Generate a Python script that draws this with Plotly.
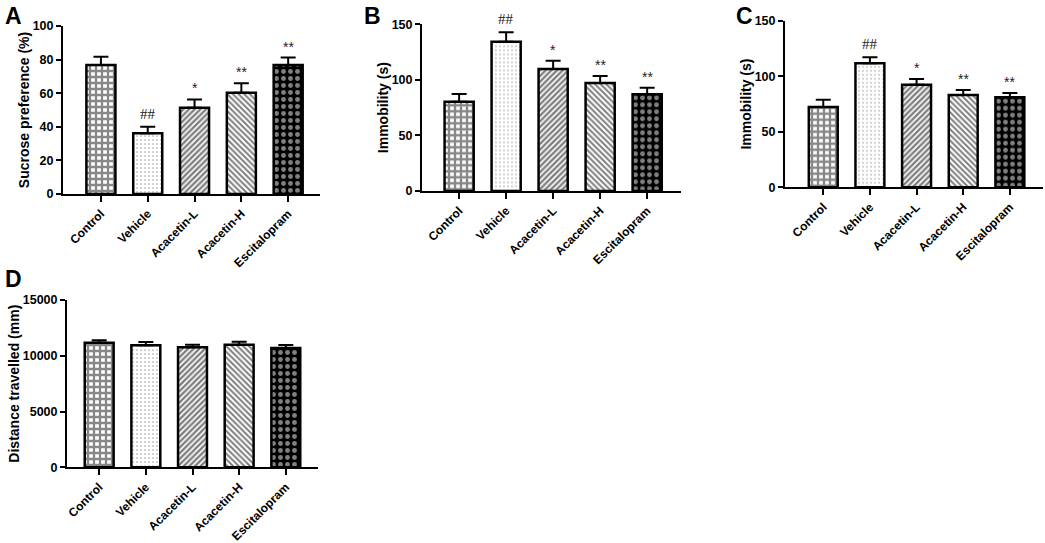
import plotly.graph_objects as go

groups = ["Control", "Vehicle", "Acacetin-L", "Acacetin-H", "Escitalopram"]

# panel A - sucrose preference (%)
sucrose_mean = [76.8, 36.1, 51.4, 60.3, 76.8]
sucrose_err = [4.9, 4.0, 4.9, 5.6, 4.4]
sucrose_marks = ["", "##", "*", "**", "**"]

# panel B - immobility (s)
immob_b_mean = [80.4, 134.4, 109.8, 97.2, 87.0]
immob_b_err = [6.9, 8.4, 7.5, 6.3, 6.0]
immob_b_marks = ["", "##", "*", "**", "**"]

# panel C - immobility (s)
immob_c_mean = [72.3, 111.6, 92.4, 83.1, 81.0]
immob_c_err = [6.6, 5.4, 5.1, 4.5, 3.9]
immob_c_marks = ["", "##", "*", "**", "**"]

# panel D - distance travelled (mm)
dist_mean = [11175, 10936, 10757, 10996, 10697]
dist_err = [210, 300, 240, 270, 270]

W, H = 1045, 543
FONT = "Arial, Liberation Sans, sans-serif"

patterns = [
    dict(shape="+", fgcolor="#111111", bgcolor="white", size=6, solidity=0.62),
    dict(shape=".", fgcolor="#555555", bgcolor="white", size=4, solidity=0.15),
    dict(shape="/", fgcolor="black", bgcolor="white", size=4, solidity=0.6),
    dict(shape="\\", fgcolor="black", bgcolor="white", size=4, solidity=0.5),
    dict(shape=".", fgcolor="white", bgcolor="black", size=7, solidity=0.38),
]

# pixel boxes: (x0, x1, ytop, ybottom), x range, y range, dtick, title, letter
panels = [
    dict(box=(63, 320, 26, 194), xr=[-0.81, 4.68], yr=[0, 100], dt=20,
         title="Sucrose preference (%)", letter="A", lx=3, ly=1,
         mean=sucrose_mean, err=sucrose_err, marks=sucrose_marks),
    dict(box=(422, 681, 24.3, 191), xr=[-0.79, 4.72], yr=[0, 150], dt=50,
         title="Immobility (s)", letter="B", lx=362, ly=1,
         mean=immob_b_mean, err=immob_b_err, marks=immob_b_marks),
    dict(box=(785, 1043, 20.7, 187.3), xr=[-0.82, 4.71], yr=[0, 150], dt=50,
         title="Immobility (s)", letter="C", lx=734, ly=1,
         mean=immob_c_mean, err=immob_c_err, marks=immob_c_marks),
    dict(box=(67, 318, 300, 467.3), xr=[-0.69, 4.69], yr=[0, 15000], dt=5000,
         title="Distance travelled (mm)", letter="D", lx=3, ly=264,
         mean=dist_mean, err=dist_err, marks=None),
]

fig = go.Figure()
annotations = []
layout = {}

for i, p in enumerate(panels):
    n = "" if i == 0 else str(i + 1)
    xa, ya = "x" + n, "y" + n
    x0, x1, yt, yb = p["box"]
    fig.add_trace(go.Bar(
        x=list(range(len(groups))), y=p["mean"], xaxis=xa, yaxis=ya,
        width=0.62,
        marker=dict(color="white", line=dict(color="black", width=2.5),
                    pattern=dict(
                        shape=[pt["shape"] for pt in patterns],
                        fgcolor=[pt["fgcolor"] for pt in patterns],
                        bgcolor=[pt["bgcolor"] for pt in patterns],
                        size=[pt["size"] for pt in patterns],
                        solidity=[pt["solidity"] for pt in patterns])),
        error_y=dict(type="data", symmetric=False, array=p["err"],
                     arrayminus=[0] * len(groups), color="black",
                     thickness=2, width=7.5),
        showlegend=False, hoverinfo="skip",
    ))
    layout["xaxis" + n] = dict(
        domain=[x0 / W, x1 / W], range=p["xr"], anchor=ya, automargin=False,
        tickmode="array", tickvals=list(range(len(groups))), ticktext=groups,
        tickangle=-45, showline=True, linecolor="black", linewidth=2,
        ticks="outside", ticklen=6, tickwidth=2, tickcolor="black",
        showgrid=False, zeroline=False,
        tickfont=dict(family=FONT, size=12, color="black", weight="bold"),
    )
    layout["yaxis" + n] = dict(
        domain=[1 - yb / H, 1 - yt / H], range=p["yr"], anchor=xa, automargin=False,
        dtick=p["dt"], tickformat="d", showline=True, linecolor="black", linewidth=2,
        ticks="outside", ticklen=5, tickwidth=2, tickcolor="black",
        showgrid=False, zeroline=False,
        tickfont=dict(family=FONT, size=12.5, color="black", weight="bold"),
        title=dict(text=p["title"], standoff=0,
                   font=dict(family=FONT, size=14, color="black", weight="bold")),
    )
    annotations.append(dict(
        text="<b>%s</b>" % p["letter"], x=p["lx"] / W, y=1 - p["ly"] / H,
        xref="paper", yref="paper", xanchor="left", yanchor="top",
        showarrow=False, font=dict(family=FONT, size=23, color="black"),
    ))
    if p["marks"]:
        for k, m in enumerate(p["marks"]):
            if not m:
                continue
            hash_mark = m.startswith("#")
            annotations.append(dict(
                text=m, x=k, y=p["mean"][k] + p["err"][k], xref=xa, yref=ya,
                xanchor="center", yanchor="bottom", showarrow=False,
                yshift=3 if hash_mark else 1,
                font=dict(family="Liberation Serif, Times New Roman, serif" if hash_mark else FONT,
                          size=15 if hash_mark else 14, color="#222222"),
            ))

fig.update_layout(
    width=W, height=H, margin=dict(l=0, r=0, t=0, b=0),
    paper_bgcolor="white", plot_bgcolor="white",
    annotations=annotations, bargap=0.3, **layout,
)

# drop the default page margin so the figure sits at the window's corner
fig.write_html("out.html", config={"displayModeBar": False},
               post_script="document.body.style.margin = '0';")
